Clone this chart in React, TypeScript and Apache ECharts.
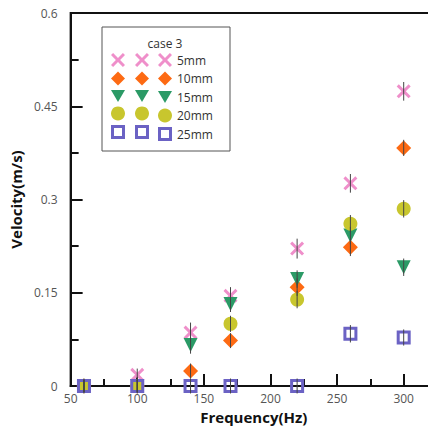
import React, { useEffect, useRef } from "react";
import * as echarts from "echarts";

const FREQ = [60, 100, 140, 170, 220, 260, 300];
const SERIES_NAMES = ["5mm", "10mm", "15mm", "20mm", "25mm"];
const V5 = [0, 0.018, 0.086, 0.145, 0.221, 0.326, 0.474];
const V10 = [0, 0, 0.024, 0.073, 0.159, 0.223, 0.383];
const V15 = [0, 0, 0.066, 0.132, 0.172, 0.242, 0.191];
const V20 = [0, 0, null, 0.1, 0.139, 0.261, 0.285];
const V25 = [0, 0, 0, 0, 0, 0.084, 0.078];
const ERR5 = [0.01, 0.01, 0.016, 0.014, 0.016, 0.015, 0.015];
const ERR10 = [0.01, 0.01, 0.012, 0.012, 0.014, 0.014, 0.013];
const ERR15 = [0.01, 0.01, 0.014, 0.013, 0.014, 0.014, 0.014];
const ERR20 = [0.01, 0.01, 0.01, 0.013, 0.014, 0.014, 0.014];
const ERR25 = [0.012, 0.012, 0.012, 0.012, 0.012, 0.014, 0.013];
const Y_TICKS = [0, 0.15, 0.3, 0.45, 0.6];

const FONT = "'Open Sans', 'Noto Sans', sans-serif";

const COLORS = ["#ef8fca", "#fd6a13", "#2b9a66", "#c8c62e", "#6b62c4"];
const SYMBOLS = [
  "path://M0,3L3,0L10,7L17,0L20,3L13,10L20,17L17,20L10,13L3,20L0,17L7,10Z",
  "diamond",
  "path://M0,0L20,0L10,17Z",
  "circle",
  "path://M0,0H14V14H0ZM3,3V11H11V3Z",
];
const VALUES = [V5, V10, V15, V20, V25];
const ERRS = [ERR5, ERR10, ERR15, ERR20, ERR25];

export default function App() {
  const ref = useRef<HTMLDivElement>(null);
  useEffect(() => {
    document.body.style.margin = "0";
    if (!ref.current) return;
    const chart = echarts.init(ref.current, null, { renderer: "svg" });

    const scatter = SERIES_NAMES.map((name, si) => ({
      name,
      type: "scatter",
      symbol: SYMBOLS[si],
      symbolSize: si === 1 ? 15 : 14,
      itemStyle: { color: COLORS[si], opacity: 1 },
      z: 2,
      data: FREQ.map((f, i) => [f, VALUES[si][i]]).filter((d) => d[1] !== null),
    }));

    const errData: number[][] = [];
    SERIES_NAMES.forEach((_, si) => {
      FREQ.forEach((f, i) => {
        const v = VALUES[si][i];
        if (v !== null) errData.push([f, v as number, ERRS[si][i]]);
      });
    });

    const legendBase = {
      orient: "vertical",
      top: 53,
      itemWidth: 14,
      itemHeight: 14,
      itemGap: 4.5,
      padding: 0,
      selectedMode: false,
      data: SERIES_NAMES,
      textStyle: { fontSize: 12, lineHeight: 14, color: "#333", fontFamily: FONT },
    };

    chart.setOption({
      animation: false,
      textStyle: { fontFamily: FONT },
      grid: {
        left: 63,
        top: 13,
        right: 10,
        bottom: 45,
        show: true,
        borderColor: "#111",
        borderWidth: 2,
        backgroundColor: "transparent",
      },
      xAxis: {
        type: "value",
        min: 50,
        max: 325,
        interval: 50,
        name: "Frequency(Hz)",
        nameLocation: "middle",
        nameGap: 23,
        nameTextStyle: { fontSize: 15, fontWeight: "bold", color: "#111", fontFamily: FONT },
        axisLine: { lineStyle: { color: "#111", width: 2 } },
        axisTick: { inside: true, length: 12, lineStyle: { color: "#111", width: 2 } },
        minorTick: { show: true, splitNumber: 2, length: 7, lineStyle: { color: "#111", width: 2 } },
        splitLine: { show: false },
        axisLabel: { color: "#555", fontSize: 12, margin: 6, fontFamily: FONT, showMaxLabel: false },
      },
      yAxis: {
        type: "value",
        min: Y_TICKS[0],
        max: Y_TICKS[Y_TICKS.length - 1],
        interval: 0.15,
        name: "Velocity(m/s)",
        nameLocation: "middle",
        nameGap: 33,
        nameTextStyle: { fontSize: 15, fontWeight: "bold", color: "#111", fontFamily: FONT },
        axisLine: { lineStyle: { color: "#111", width: 2 } },
        axisTick: { inside: true, length: 12, lineStyle: { color: "#111", width: 2 } },
        minorTick: { show: true, splitNumber: 2, length: 8, lineStyle: { color: "#111", width: 2 } },
        splitLine: { show: false },
        axisLabel: { color: "#555", fontSize: 12, margin: 13, fontFamily: FONT },
      },
      legend: [
        { ...legendBase, left: 111, formatter: () => "" },
        { ...legendBase, left: 135, formatter: () => "" },
        { ...legendBase, left: 158 },
      ],
      graphic: [
        {
          type: "rect",
          z: 0,
          shape: { x: 102, y: 27, width: 128, height: 124 },
          style: { fill: "#fff", stroke: "#555", lineWidth: 1 },
        },
        {
          type: "text",
          z: 1,
          x: 165,
          y: 43,
          style: {
            text: "case 3",
            fill: "#333",
            fontSize: 12,
            fontFamily: FONT,
            textAlign: "center",
            textVerticalAlign: "middle",
          },
        },
      ],
      series: [
        ...scatter,
        {
          name: "err",
          type: "custom",
          z: 3,
          data: errData,
          renderItem: (params: any, api: any) => {
            const x = api.value(0);
            const y = api.value(1);
            const e = api.value(2);
            const p1 = api.coord([x, y - e]);
            const p2 = api.coord([x, y + e]);
            return {
              type: "line",
              shape: { x1: p1[0], y1: p1[1], x2: p2[0], y2: p2[1] },
              style: { stroke: "#444", lineWidth: 1 },
            };
          },
        },
      ],
    });
    return () => chart.dispose();
  }, []);
  return (
    <div style={{ width: 428, height: 431, overflow: "hidden", position: "relative" }}>
      <div ref={ref} style={{ width: 447, height: 431 }} />
    </div>
  );
}
